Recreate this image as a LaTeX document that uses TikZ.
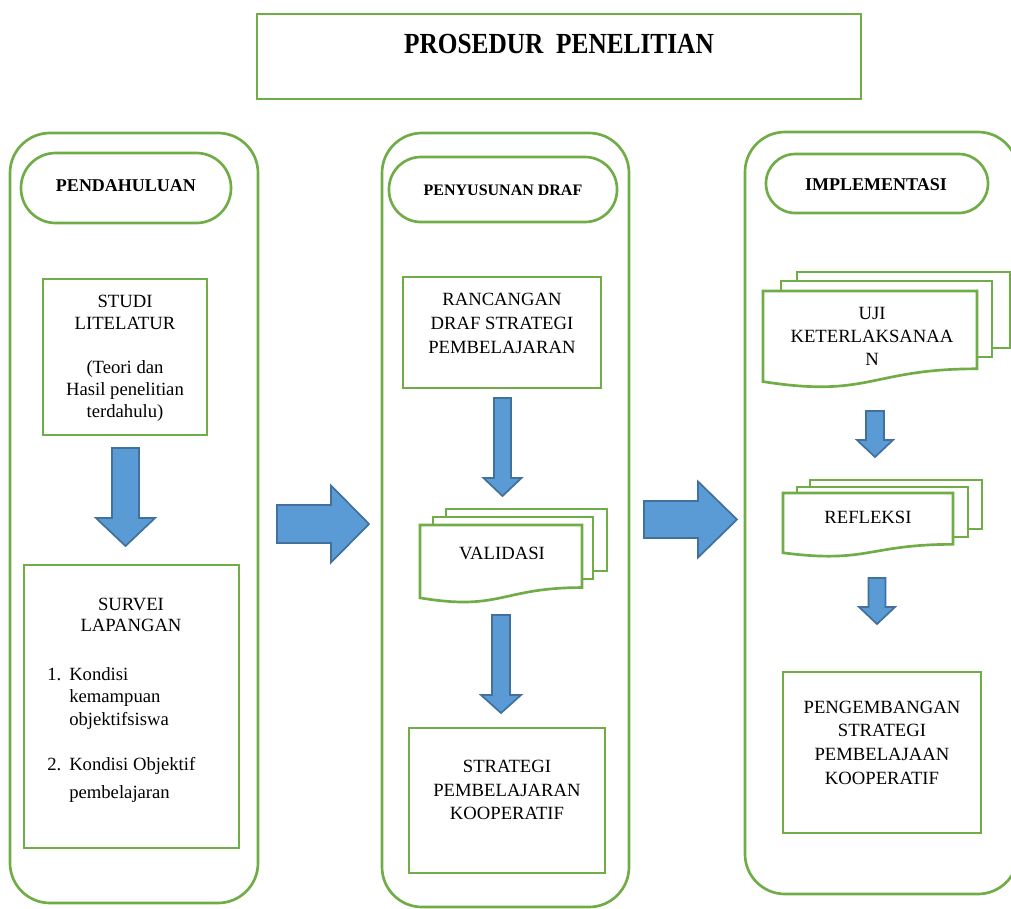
\documentclass[tikz,border=0pt]{standalone}
\usepackage{fontspec}
\setmainfont{Liberation Serif}
\usetikzlibrary{fit}
\definecolor{grn}{HTML}{70AD47}
\definecolor{bfill}{HTML}{5B9BD5}
\definecolor{bline}{HTML}{41719C}
\tikzset{
  gbox/.style={draw=grn, line width=2pt, inner sep=0pt, fill=white},
  colbox/.style={gbox, rounded corners=30pt},
  lbl/.style={align=center, font=\fontsize{14pt}{17.5pt}\selectfont, inner sep=0pt},
  hdr/.style={align=center, font=\bfseries\fontsize{13.5pt}{16pt}\selectfont, inner sep=0pt},
  barrow/.style={fill=bfill, draw=bline, line width=1.3pt, line join=miter},
  docpage/.style={draw=grn, line width=2pt, fill=white},
}
% cx, top, headtop, tip, shafthalf, headhalf
\newcommand\blkdown[6]{%
  \draw[barrow] ({#1-#5},#2) -- ({#1+#5},#2) -- ({#1+#5},#3) -- ({#1+#6},#3) -- (#1,#4)
    -- ({#1-#6},#3) -- ({#1-#5},#3) -- cycle;}
% left, cy, headx, tip, shafthalf, headhalf
\newcommand\blkright[6]{%
  \draw[barrow] (#1,{#2-#5}) -- (#3,{#2-#5}) -- (#3,{#2-#6}) -- (#4,#2) -- (#3,{#2+#6})
    -- (#3,{#2+#5}) -- (#1,{#2+#5}) -- cycle;}
% x0, y0, x1, h
\newcommand\docshape[4]{%
  \draw[docpage] (#1,#2) -- (#3,#2) -- (#3,{#2+0.802*#4})
    .. controls ({(#1+#3)/2},{#2+0.802*#4}) and ({(#1+#3)/2},{#2+1.107*#4}) ..
    (#1,{#2+0.934*#4}) -- cycle;}
\begin{document}
\begin{tikzpicture}[x=0.75pt,y=-0.75pt]
\useasboundingbox (0,0) rectangle (1011,908);
\clip (0,0) rectangle (1011,908);

% title
\node[gbox, fit={(257,14)(861,99)}] (title) {};
\node[inner sep=0pt, font=\bfseries\fontsize{19pt}{22pt}\selectfont] (titletext) at (559,44) {\scalebox{1}[1.15]{PROSEDUR\ \ PENELITIAN}};

% columns
\node[colbox, fit={(10,133)(258,903)}] (col1) {};
\node[colbox, fit={(382,133)(629,907)}] (col2) {};
\node[colbox, fit={(745,132)(1018,894)}] (col3) {};

% headers
\node[gbox, rounded corners=26pt, fit={(21,153)(231,223)}] (pill1) {};
\node[hdr] (pill1t) at (126,186) {PENDAHULUAN};
\node[gbox, rounded corners=24pt, fit={(389,157)(617,222)}] (pill2) {};
\node[hdr, font=\bfseries\fontsize{12pt}{14pt}\selectfont] (pill2t) at (503,190) {PENYUSUNAN DRAF};
\node[gbox, rounded corners=22pt, fit={(766,154)(988,213)}] (pill3) {};
\node[hdr] (pill3t) at (876,185) {IMPLEMENTASI};

% column 1
\node[gbox, fit={(43,279)(207,435)}] (studi) {};
\node[lbl, font=\fontsize{14pt}{16.5pt}\selectfont] (studit) at (125,358) {STUDI\\LITELATUR\\[16.5pt](Teori dan\\Hasil penelitian\\terdahulu)};
\blkdown{125.5}{448}{518}{546}{13.5}{29.5}
\node[gbox, fit={(24,565)(239,848)}] (survei) {};
\node[lbl, font=\fontsize{14pt}{16pt}\selectfont] (surveit) at (131,615) {SURVEI\\LAPANGAN};
\node[inner sep=0pt, align=left, anchor=north west, font=\fontsize{14pt}{17pt}\selectfont] (surveil) at (47,667)
  {\makebox[16.5pt][l]{1.}Kondisi\\\hspace*{16.5pt}kemampuan\\\hspace*{16.5pt}objektifsiswa\\[17pt]\makebox[16.5pt][l]{2.}Kondisi Objektif\\[4pt]\hspace*{16.5pt}pembelajaran};

% column 2
\node[gbox, fit={(403,277)(601,388)}] (rancang) {};
\node[lbl, font=\fontsize{14pt}{18pt}\selectfont] (rancangt) at (502,323) {RANCANGAN\\DRAF STRATEGI\\PEMBELAJARAN};
\blkdown{502.5}{398}{478}{496}{8.5}{19}
\draw[docpage] (446,509) rectangle (607,571);
\draw[docpage] (433,517) rectangle (593,579);
\docshape{420}{525}{582}{78}
\node[lbl] (validt) at (502,553) {VALIDASI};
\blkdown{501}{615}{695}{713}{9}{20}
\node[gbox, fit={(409,728)(605,873)}] (strat) {};
\node[lbl, font=\fontsize{14pt}{17.5pt}\selectfont] (stratt) at (507,790) {STRATEGI\\PEMBELAJARAN\\KOOPERATIF};

% column 3
\draw[docpage] (797,272) rectangle (1010,348);
\draw[docpage] (781,281) rectangle (992,357);
\docshape{763}{291}{977}{97}
\node[lbl, font=\fontsize{14pt}{17.5pt}\selectfont] (ujit) at (872,336.5) {UJI\\KETERLAKSANAA\\N};
\blkdown{875}{411}{440}{457}{9}{18}
\draw[docpage] (810,480) rectangle (982,529);
\draw[docpage] (797,487) rectangle (968,537);
\docshape{783}{493}{953}{64}
\node[lbl] (reflt) at (868,517) {REFLEKSI};
\blkdown{877}{578}{607}{624}{8.5}{18}
\node[gbox, fit={(783,672)(981,833)}] (pengemb) {};
\node[lbl, font=\fontsize{14pt}{17.75pt}\selectfont] (pengembt) at (882,742.5) {PENGEMBANGAN\\STRATEGI\\PEMBELAJAAN\\KOOPERATIF};

% big arrows between columns
\blkright{277}{524}{331}{369}{19}{38.5}
\blkright{644}{519.5}{698}{737}{18.5}{38}
\end{tikzpicture}
\end{document}
